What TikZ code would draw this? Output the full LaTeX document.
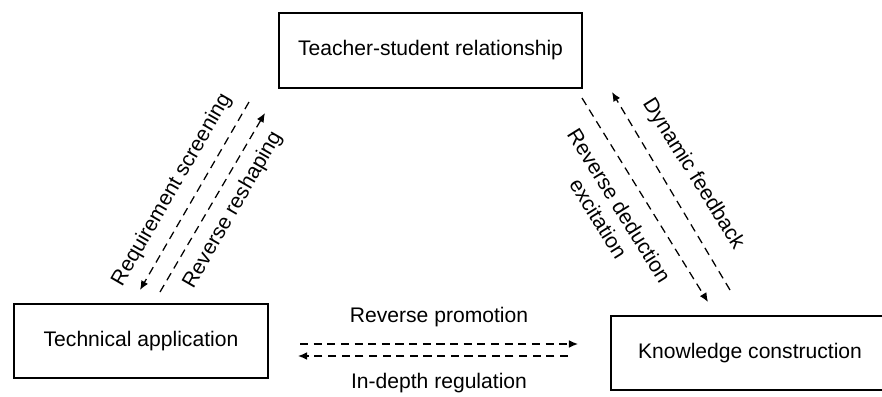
\documentclass[tikz,border=0pt]{standalone}
\usepackage{fontspec}
\setmainfont{Liberation Sans}
\usetikzlibrary{arrows.meta}

\begin{document}
\begin{tikzpicture}[x=0.025cm, y=-0.025cm,
    every node/.style={font=\fontsize{15}{17.5}\selectfont},
    block/.style={draw, line width=1.4pt, inner sep=0pt},
    flow/.style={dash pattern=on 5.8pt off 3.9pt, line width=0.9pt, -{Latex[length=6.5pt, width=5.5pt]}}]
    \useasboundingbox (0, 0) rectangle (882, 396);
    \clip (0, 0) rectangle (882, 396);
    % Blocks
    \node[block, minimum width=7.575cm, minimum height=1.875cm] (teacher) at (430.5, 50.5) {Teacher-student relationship};
    \node[block, minimum width=6.35cm, minimum height=1.85cm] (tech) at (141, 341) {Technical application};
    \node[block, minimum width=6.95cm, minimum height=1.85cm] (know) at (750, 353) {Knowledge construction};
    % Arrow ends
    \coordinate (req start) at (249, 102);
    \coordinate (req end) at (140, 290);
    \coordinate (resh start) at (160, 292);
    \coordinate (resh end) at (265, 113);
    \coordinate (ded start) at (582, 98);
    \coordinate (ded end) at (708, 302);
    \coordinate (dyn start) at (730, 290);
    \coordinate (dyn end) at (612, 92);
    \coordinate (prom start) at (300, 344);
    \coordinate (prom end) at (578, 344);
    \coordinate (reg start) at (568, 356);
    \coordinate (reg end) at (298, 356);
    % Dashed arrows
    \draw[flow] (req start) -- (req end);
    \draw[flow] (resh start) -- (resh end);
    \draw[flow] (ded start) -- (ded end);
    \draw[flow] (dyn start) -- (dyn end);
    \draw[flow] (prom start) -- (prom end);
    \draw[flow] (reg start) -- (reg end);
    % Labels
    \node[rotate=60] (req) at (172, 190) {Requirement screening};
    \node[rotate=60] (resh) at (233, 210) {Reverse reshaping};
    \node[rotate=-58] (dyn) at (693, 174) {Dynamic feedback};
    \node[rotate=-58, align=center] (ded) at (609, 212) {Reverse deduction\\excitation};
    \node (prom) at (439, 317) {Reverse promotion};
    \node (reg) at (439, 383) {In-depth regulation};
\end{tikzpicture}
\end{document}
